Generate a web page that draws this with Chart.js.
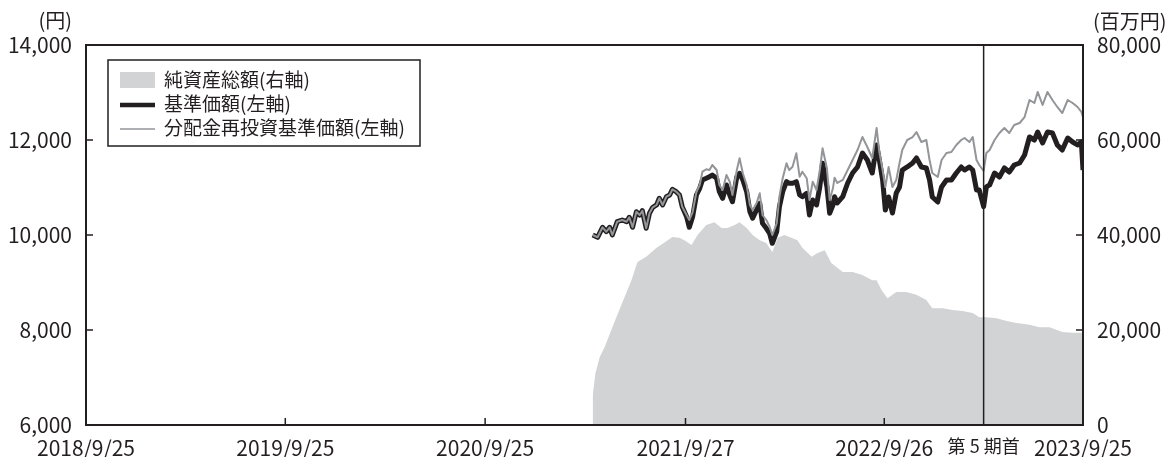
<!DOCTYPE html>
<html lang="ja">
<head>
<meta charset="utf-8">
<title>基準価額・純資産総額の推移</title>
<script src="https://cdn.jsdelivr.net/npm/chart.js@4/dist/chart.umd.min.js"></script>
<style>
  html, body { margin: 0; padding: 0; background: #fff; }
  #wrap { width: 1166px; height: 457px; }
</style>
</head>
<body>
<div id="wrap"><canvas id="navChart" width="1166" height="457"></canvas></div>
<script>
// 基準価額 / 分配金再投資基準価額 (円)
const navDates = [
  '2021/4/10','2021/4/19','2021/4/28','2021/5/5','2021/5/11','2021/5/16','2021/5/25','2021/6/3','2021/6/11','2021/6/16',
  '2021/6/22','2021/6/29','2021/7/5','2021/7/10','2021/7/17','2021/7/23','2021/7/29','2021/8/5','2021/8/10','2021/8/16',
  '2021/8/23','2021/8/29','2021/9/3','2021/9/10','2021/9/16','2021/9/21','2021/9/29','2021/10/4','2021/10/10','2021/10/17',
  '2021/10/23','2021/10/28','2021/11/4','2021/11/10','2021/11/15','2021/11/23','2021/11/28','2021/12/4','2021/12/11','2021/12/17',
  '2021/12/22','2021/12/30','2022/1/4','2022/1/10','2022/1/17','2022/1/23','2022/1/28','2022/2/4','2022/2/10','2022/2/15',
  '2022/2/22','2022/2/28','2022/3/5','2022/3/13','2022/3/18','2022/3/24','2022/3/31','2022/4/5','2022/4/11','2022/4/18',
  '2022/4/24','2022/4/29','2022/5/7','2022/5/12','2022/5/18','2022/5/25','2022/5/31','2022/6/5','2022/6/13','2022/6/18',
  '2022/6/24','2022/6/27','2022/7/2','2022/7/12','2022/7/21','2022/7/30','2022/8/8','2022/8/17','2022/8/26','2022/9/4',
  '2022/9/12','2022/9/17','2022/9/23','2022/9/28','2022/10/4','2022/10/11','2022/10/18','2022/10/24','2022/10/29','2022/11/7',
  '2022/11/17','2022/11/24','2022/12/3','2022/12/12','2022/12/18','2022/12/23','2023/1/2','2023/1/9','2023/1/18','2023/1/27',
  '2023/2/5','2023/2/14','2023/2/20','2023/3/1','2023/3/7','2023/3/14','2023/3/19','2023/3/27','2023/4/1','2023/4/7',
  '2023/4/16','2023/4/25','2023/5/4','2023/5/13','2023/5/22','2023/6/1','2023/6/10','2023/6/19','2023/6/28','2023/7/4',
  '2023/7/13','2023/7/22','2023/7/31','2023/8/9','2023/8/18','2023/8/28','2023/9/6','2023/9/15','2023/9/22','2023/9/25'
];
const navValues = [
  10000, 9952,10162,10069,10162,10000,10280,10316,10280,10373,
  10162,10490,10421,10512,10141,10457,10583,10632,10773,10632,
  10806,10842,10962,10912,10842,10596,10385,10162,10385,10842,
  10983,11158,11194,11227,11263,11194,10912,10773,11053,10842,
  10701,11227,11299,11158,10912,10490,10352,10526,10667,10246,
  10141,10036, 9825,10069,10596,10912,11122,11088,11088,11122,
  10842,10806,10878,10421,10737,10632,11017,11509,11017,10456,
  10632,10807,10674,10807,11095,11305,11432,11726,11579,11305,
  11895,11579,11158,10526,10800,10463,10884,11011,11368,11432,
  11516,11621,11432,11411,11158,10800,10695,11011,11158,11158,
  11305,11432,11368,11432,11368,10947,10947,10596,11011,11053,
  11305,11221,11411,11326,11474,11516,11684,12063,12000,12168,
  11937,12168,12147,11895,11789,12042,11958,11895,11958,11368
];
const reinvValues = [
  10000, 9952,10162,10069,10162,10000,10280,10316,10280,10373,
  10162,10490,10421,10512,10141,10457,10583,10632,10773,10632,
  10806,10842,10962,10912,10842,10596,10420,10316,10484,10905,
  11053,11333,11383,11368,11474,11368,11053,10947,11263,11122,
  10842,11368,11615,11299,11053,10632,10526,10667,10878,10421,
  10316,10175,10000,10246,10806,11194,11509,11368,11438,11720,
  11228,11333,11194,10737,11122,10947,11368,11825,11404,10737,
  10983,11207,11095,11158,11368,11579,11789,12063,11853,11621,
  12253,11747,11368,11011,11432,11011,11158,11516,11789,12000,
  12063,12168,11958,12000,11579,11305,11221,11579,11726,11747,
  11895,12000,12042,11958,12063,11579,11474,11350,11726,11789,
  12000,12147,12253,12147,12316,12358,12484,12842,12779,13011,
  12737,13011,12842,12695,12568,12842,12779,12695,12590,12484
];

// 純資産総額 (百万円)
const assetDates = [
  '2021/4/10','2021/4/15','2021/4/23','2021/5/2','2021/5/16','2021/6/3','2021/6/20','2021/7/1','2021/7/17','2021/7/27',
  '2021/8/5','2021/8/20','2021/9/3','2021/9/16','2021/9/25','2021/10/8','2021/10/19','2021/11/4','2021/11/19','2021/12/2',
  '2021/12/13','2021/12/26','2022/1/4','2022/1/17','2022/1/28','2022/2/10','2022/2/22','2022/3/5','2022/3/15','2022/3/27',
  '2022/4/9','2022/4/20','2022/4/29','2022/5/16','2022/5/27','2022/6/9','2022/6/21','2022/7/12','2022/7/30','2022/8/17',
  '2022/9/4','2022/9/12','2022/9/21','2022/10/2','2022/10/18','2022/11/5','2022/11/24','2022/12/12','2022/12/23','2023/1/11',
  '2023/1/29','2023/2/16','2023/3/7','2023/3/19','2023/4/1','2023/4/20','2023/5/8','2023/5/26','2023/6/19','2023/7/7',
  '2023/7/26','2023/8/18','2023/9/6','2023/9/25'
];
const assetValues = [
   6100,10900,14300,16400,20600,25700,30500,34300,35400,36400,
  37300,38500,39600,39400,38900,37900,40000,42100,42700,41500,
  41500,42100,42700,41500,40000,38900,38300,36400,39400,40000,
  39400,38900,37300,35400,36200,36800,34100,32200,32200,31600,
  30500,30500,28400,26700,28000,28000,27400,26300,24600,24600,
  24200,24000,23600,22700,22700,22500,21900,21500,21100,20600,
  20600,19600,19400,19400
];

// 目盛
const xTickDates  = ['2018/9/25','2019/9/25','2020/9/25','2021/9/27','2022/9/26','2023/3/27','2023/9/25'];
const xTickLabels = ['2018/9/25','2019/9/25','2020/9/25','2021/9/27','2022/9/26','第 5 期首','2023/9/25'];
const periodStart = '2023/3/27';
const leftTicks  = [6000, 8000, 10000, 12000, 14000];
const rightTicks = [0, 20000, 40000, 60000, 80000];
const seriesNames = ['純資産総額(右軸)', '基準価額(左軸)', '分配金再投資基準価額(左軸)'];

const INK = '#231f20';
const LIGHT = '#d1d3d4';
const MID = '#939598';
const FONT = '"Noto Sans CJK JP", "Noto Sans", sans-serif';
const TICK_SIZE = 21;

function toTime(s) {
  const [y, m, d] = s.split('/').map(Number);
  return Date.UTC(y, m - 1, d);
}
const pts = (dates, vals) => dates.map((d, i) => ({ x: toTime(d), y: vals[i] }));
const fmt = v => v.toLocaleString('en-US');

// frame, inward ticks, period marker, unit labels and the boxed legend
const decorations = {
  id: 'decorations',
  afterDraw(chart) {
    const { ctx, chartArea: a, scales } = chart;
    ctx.save();

    // period start line
    const px = scales.x.getPixelForValue(toTime(periodStart));
    ctx.strokeStyle = INK;
    ctx.lineWidth = 1.5;
    ctx.beginPath();
    ctx.moveTo(px, a.top);
    ctx.lineTo(px, a.bottom);
    ctx.stroke();

    // small inward ticks
    ctx.lineWidth = 1.5;
    ctx.beginPath();
    xTickDates.forEach(d => {
      if (d === periodStart) return;
      const x = scales.x.getPixelForValue(toTime(d));
      if (x <= a.left + 1 || x >= a.right - 1) return;
      ctx.moveTo(x, a.bottom);
      ctx.lineTo(x, a.bottom - 7);
    });
    rightTicks.slice(1, -1).forEach(v => {
      const y = scales.y1.getPixelForValue(v);
      ctx.moveTo(a.right, y);
      ctx.lineTo(a.right - 7, y);
    });
    leftTicks.slice(1, -1).forEach(v => {
      const y = scales.y.getPixelForValue(v);
      ctx.moveTo(a.left, y);
      ctx.lineTo(a.left + 7, y);
    });
    ctx.stroke();

    // plot frame
    ctx.lineWidth = 2;
    ctx.strokeRect(a.left, a.top, a.right - a.left, a.bottom - a.top);

    // unit labels
    ctx.fillStyle = INK;
    ctx.font = '20px ' + FONT;
    ctx.textBaseline = 'middle';
    ctx.textAlign = 'right';
    ctx.fillText('(円)', a.left - 14, 20);
    ctx.textAlign = 'left';
    ctx.fillText('(百万円)', a.right + 10, 21);

    // legend
    const lx = 108, ly = 60, lw = 312, lh = 86;
    ctx.fillStyle = '#fff';
    ctx.fillRect(lx, ly, lw, lh);
    ctx.strokeStyle = INK;
    ctx.lineWidth = 1.5;
    ctx.strokeRect(lx, ly, lw, lh);
    const rows = [80, 104, 128];
    const ds = chart.data.datasets;
    // area swatch
    ctx.fillStyle = ds[0].backgroundColor;
    ctx.fillRect(120, rows[0] - 8, 35, 16);
    // line swatches
    [1, 2].forEach(i => {
      ctx.strokeStyle = ds[i].borderColor;
      ctx.lineWidth = i === 1 ? 4.5 : 1.5;
      ctx.beginPath();
      ctx.moveTo(120, rows[i] + 1);
      ctx.lineTo(155, rows[i] + 1);
      ctx.stroke();
    });
    ctx.fillStyle = INK;
    ctx.font = '19px ' + FONT;
    ctx.textAlign = 'left';
    rows.forEach((y, i) => ctx.fillText(seriesNames[i], 164, y));

    ctx.restore();
  }
};

new Chart(document.getElementById('navChart'), {
  type: 'line',
  data: {
    datasets: [
      {
        label: seriesNames[0],
        data: pts(assetDates, assetValues),
        yAxisID: 'y1',
        backgroundColor: LIGHT,
        borderWidth: 0,
        fill: 'origin',
        pointRadius: 0,
        order: 3
      },
      {
        label: seriesNames[1],
        data: pts(navDates, navValues),
        yAxisID: 'y',
        borderColor: INK,
        borderWidth: 5,
        fill: false,
        pointRadius: 0,
        order: 2
      },
      {
        label: seriesNames[2],
        data: pts(navDates, reinvValues),
        yAxisID: 'y',
        borderColor: MID,
        borderWidth: 2,
        fill: false,
        pointRadius: 0,
        order: 1
      }
    ]
  },
  options: {
    responsive: false,
    devicePixelRatio: 1,
    animation: false,
    layout: { padding: { top: 45, left: 0, right: 0, bottom: 0 } },
    plugins: {
      legend: { display: false },
      tooltip: { enabled: false }
    },
    elements: { line: { tension: 0, borderJoinStyle: 'round', borderCapStyle: 'butt' } },
    scales: {
      x: {
        type: 'linear',
        min: toTime(xTickDates[0]),
        max: toTime(xTickDates[xTickDates.length - 1]),
        afterBuildTicks: s => { s.ticks = xTickDates.map(d => ({ value: toTime(d) })); },
        afterFit: s => { s.height = 32; },
        grid: { display: false, drawTicks: false },
        border: { display: false },
        ticks: {
          autoSkip: false,
          maxRotation: 0,
          padding: 10,
          color: INK,
          // the period label is set a little smaller than the dates
          font: c => ({ family: FONT, size: xTickDates[c.index] === periodStart ? 18 : TICK_SIZE }),
          callback: v => xTickLabels[xTickDates.findIndex(d => toTime(d) === v)]
        }
      },
      y: {
        position: 'left',
        min: 6000,
        max: 14000,
        afterBuildTicks: s => { s.ticks = leftTicks.map(v => ({ value: v })); },
        afterFit: s => { s.width = 86; },
        grid: { display: false, drawTicks: false },
        border: { display: false },
        ticks: { padding: 14, color: INK, font: { family: FONT, size: TICK_SIZE }, callback: v => fmt(v) }
      },
      y1: {
        position: 'right',
        min: 0,
        max: 80000,
        afterBuildTicks: s => { s.ticks = rightTicks.map(v => ({ value: v })); },
        afterFit: s => { s.width = 83; },
        grid: { display: false, drawTicks: false },
        border: { display: false },
        ticks: { padding: 14, color: INK, font: { family: FONT, size: TICK_SIZE }, callback: v => fmt(v) }
      }
    }
  },
  plugins: [decorations]
});
</script>
</body>
</html>
